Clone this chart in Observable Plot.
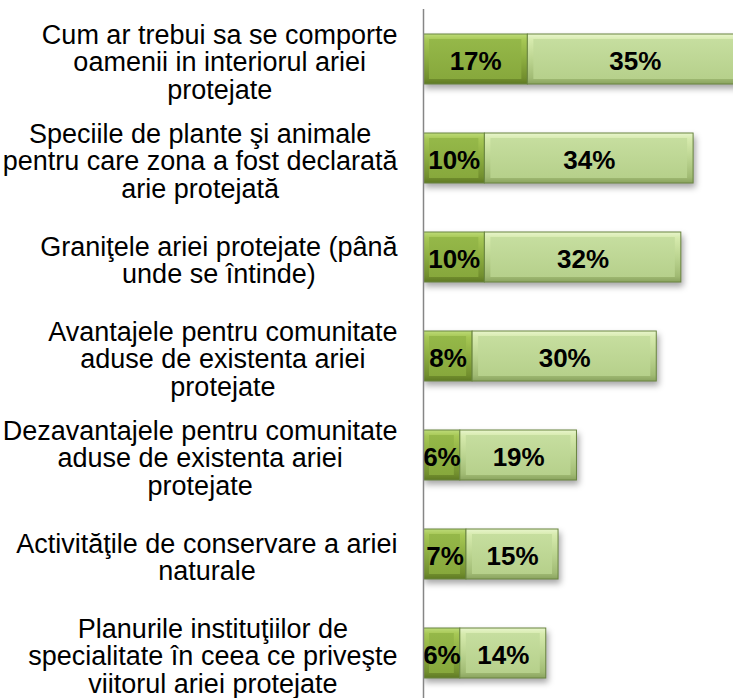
<!DOCTYPE html>
<html>
<head>
<meta charset="utf-8">
<script src="https://cdn.jsdelivr.net/npm/d3@7"></script>
<script src="https://cdn.jsdelivr.net/npm/@observablehq/plot@0.6"></script>
<style>
  html, body { margin: 0; padding: 0; background: #fff; overflow: hidden; }
  #chart svg { display: block; }
</style>
</head>
<body>
<div id="chart"></div>
<script>
const categories = [
  "Cum ar trebui sa se comporte\noamenii in interiorul ariei\nprotejate",
  "Speciile de plante şi animale\npentru care zona a fost declarată\narie protejată",
  "Graniţele ariei protejate (până\nunde se întinde)",
  "Avantajele pentru comunitate\naduse de existenta ariei\nprotejate",
  "Dezavantajele pentru comunitate\naduse de existenta ariei\nprotejate",
  "Activităţile de conservare a ariei\nnaturale",
  "Planurile instituţiilor de\nspecialitate în ceea ce priveşte\nviitorul ariei protejate"
];
const darkValues = [17, 10, 10, 8, 6, 7, 6];
const lightValues = [35, 34, 32, 30, 19, 15, 14];
const seriesNames = ["dark", "light"];

const rows = [];
categories.forEach((c, i) => {
  rows.push({cat: c, series: seriesNames[0], value: darkValues[i]});
  rows.push({cat: c, series: seriesNames[1], value: lightValues[i]});
});

const FONT = "'Liberation Sans', Arial, sans-serif";
const labelSize = 27;
const ctx = document.createElement("canvas").getContext("2d");
ctx.font = `${labelSize}px 'Liberation Sans'`;
const gap = 26;

const labelMarks = categories.map(c => {
  const w = d3.max(c.split("\n"), l => ctx.measureText(l).width);
  return Plot.text([c], {
    y: d => d, text: d => d, frameAnchor: "left",
    textAnchor: "middle", dx: -(gap + w / 2), dy: 3,
    fontSize: labelSize, lineHeight: 1.02, fill: "#000"
  });
});

const outerFill = {dark: "url(#gDarkOuter)", light: "url(#gLightOuter)"};
const faceFill = {dark: "url(#gDarkFace)", light: "url(#gLightFace)"};

const svg = Plot.plot({
  width: 733,
  height: 698,
  marginLeft: 423,
  marginRight: 0,
  marginTop: 9,
  marginBottom: 0,
  style: {fontFamily: FONT, background: "#fff"},
  x: {domain: [0, 50.5], axis: null},
  y: {domain: categories, range: [7.25, 703.75], paddingInner: 0.5, paddingOuter: 0.25, axis: null},
  color: {type: "identity"},
  marks: [
    Plot.barX(rows, Plot.stackX({
      x: "value", y: "cat", fill: d => outerFill[d.series],
      stroke: "#6a8540", strokeWidth: 1, clip: true,
      imageFilter: "drop-shadow(2px 4px 3px rgba(0,0,0,0.35))"
    })),
    Plot.barX(rows, Plot.stackX({
      x: "value", y: "cat", fill: d => faceFill[d.series],
      insetTop: 5, insetBottom: 5, insetLeft: 6, insetRight: 6, clip: true
    })),
    Plot.text(rows, Plot.stackX({
      x: "value", y: "cat", text: d => d.value + "%",
      fontSize: 26, fontWeight: "bold", fill: "#000", dy: 2
    })),
    Plot.ruleX([0], {stroke: "#868686", strokeWidth: 1.5}),
    ...labelMarks
  ]
});

const defs = d3.select(svg).insert("defs", ":first-child");
function grad(id, stops) {
  const g = defs.append("linearGradient").attr("id", id)
    .attr("x1", 0).attr("y1", 0).attr("x2", 0).attr("y2", 1);
  stops.forEach(([o, c]) => g.append("stop").attr("offset", o).attr("stop-color", c));
}
grad("gDarkOuter", [[0, "#bddb78"], [0.12, "#a6c754"], [0.5, "#8cad40"], [0.88, "#728f2e"], [1, "#5f7a24"]]);
grad("gDarkFace", [[0, "#95b849"], [1, "#87a83c"]]);
grad("gLightOuter", [[0, "#e8f5cc"], [0.12, "#d6eaad"], [0.5, "#bcd591"], [0.88, "#a1bb74"], [1, "#8aa35f"]]);
grad("gLightFace", [[0, "#c6de9f"], [1, "#b6d08b"]]);

document.getElementById("chart").appendChild(svg);
</script>
</body>
</html>
